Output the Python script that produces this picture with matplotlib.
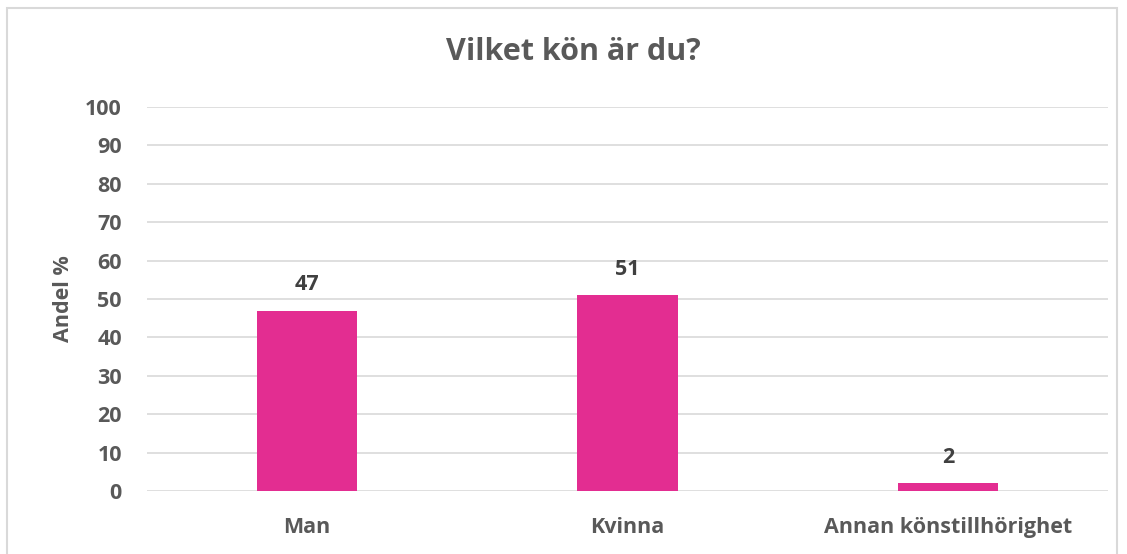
import matplotlib.pyplot as plt
from matplotlib.patches import Rectangle

# data
categories = ["Man", "Kvinna", "Annan könstillhörighet"]
values = [47, 51, 2]
y_ticks = [0, 10, 20, 30, 40, 50, 60, 70, 80, 90, 100]

plt.rcParams["font.family"] = ["Open Sans", "DejaVu Sans"]
plt.rcParams["font.weight"] = "bold"

W, H = 1127, 554
fig = plt.figure(figsize=(W / 100, H / 100), dpi=100)

# outer chart border
fig.patches.append(Rectangle((7 / W, -0.05), 1110 / W, 1 - 8 / H + 0.05,
                             transform=fig.transFigure, fill=False,
                             edgecolor="#D9D9D9", linewidth=1.5))

ax = fig.add_axes([147 / W, 1 - 491 / H, (1108 - 147) / W, (491 - 107) / H])
x = range(len(categories))
ax.bar(x, values, width=0.3125, color="#E32D91", zorder=3)

for xi, v in zip(x, values):
    ax.text(xi, v + 4.0, str(v), ha="center", va="bottom", fontsize=15.5,
            fontweight="bold", color="#404040")

ax.set_xlim(-0.5, 2.5)
ax.set_ylim(0, 100)
ax.set_yticks(y_ticks)
ax.set_xticks(list(x))
ax.set_xticklabels(categories)
ax.tick_params(axis="both", length=0, labelsize=15.5, labelcolor="#595959")
ax.tick_params(axis="y", pad=18)
ax.tick_params(axis="x", pad=19)
ax.grid(axis="y", color="#D9D9D9", linewidth=1.2, zorder=0)
for s in ax.spines.values():
    s.set_visible(False)

ax.set_ylabel("Andel %", fontsize=15.5, color="#595959", fontweight="bold", labelpad=8)
fig.text(573 / W, 1 - 52 / H, "Vilket kön är du?", ha="center", va="center",
         fontsize=22, fontweight="bold", color="#595959")

fig.savefig("out.png", dpi=100)
